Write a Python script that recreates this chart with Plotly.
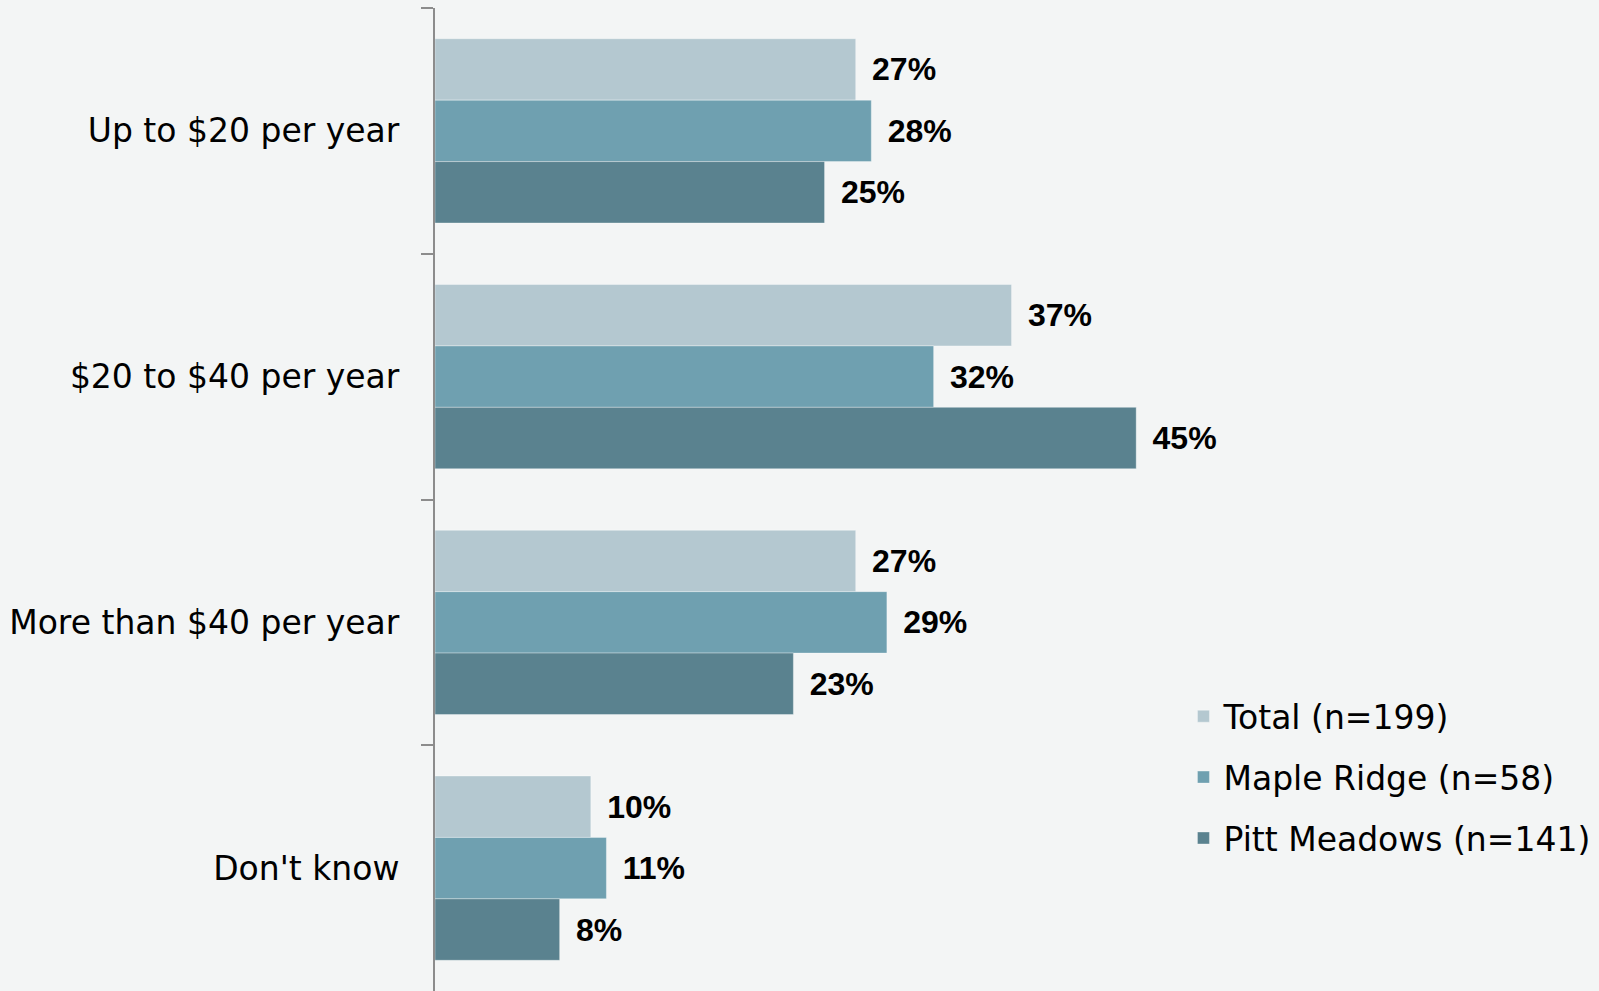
import plotly.graph_objects as go

categories = ["Up to $20 per year", "$20 to $40 per year", "More than $40 per year", "Don't know"]
series_names = ["Total (n=199)", "Maple Ridge (n=58)", "Pitt Meadows (n=141)"]
total = [27, 37, 27, 10]
maple_ridge = [28, 32, 29, 11]
pitt_meadows = [25, 45, 23, 8]
colors = ["#b4c8d0", "#6fa0b0", "#5a828f"]

fig = go.Figure()
for i, (name, vals) in enumerate(zip(series_names, [total, maple_ridge, pitt_meadows])):
    fig.add_trace(go.Bar(
        y=categories, x=vals, name=name, orientation="h",
        marker=dict(color=colors[i], line=dict(color="rgba(255,255,255,0.35)", width=1)),
        text=["\u2004\u200a" + f"{v}%" for v in vals],
        textposition="outside",
        textfont=dict(family="Liberation Sans", size=32, color="#000000", weight="bold"),
        cliponaxis=False,
        legendgroup=f"g{i}",
    ))

fig.update_layout(
    width=1599, height=991,
    margin=dict(l=435, r=0, t=8, b=0, pad=0),
    paper_bgcolor="#f3f5f5",
    plot_bgcolor="rgba(0,0,0,0)",
    barmode="group", bargap=0.25, bargroupgap=0,
    font=dict(family="DejaVu Sans", size=33, color="#000000"),
    showlegend=True,
    legend=dict(x=0.643, y=0.308, xanchor="left", yanchor="top",
                bgcolor="rgba(0,0,0,0)", tracegroupgap=15,
                font=dict(family="DejaVu Sans", size=33, color="#000000")),
    xaxis=dict(range=[0, 74.7], visible=False, showgrid=False, zeroline=False),
    yaxis=dict(autorange="reversed", showline=True, linecolor="#8c8c8c", linewidth=2,
               ticks="outside", tickson="boundaries", ticklen=12, tickcolor="#8c8c8c",
               tickwidth=2, showgrid=False, ticklabelstandoff=27,
               tickfont=dict(family="DejaVu Sans", size=33, color="#000000")),
)

fig.write_html("out.html", config={"displayModeBar": False},
               post_script="document.body.style.margin='0';document.body.style.overflow='hidden';")
